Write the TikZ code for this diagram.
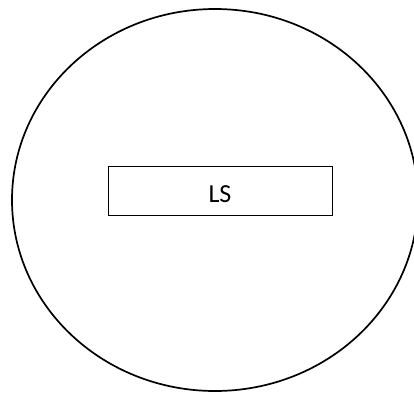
\documentclass[tikz,border=0pt]{standalone}
\usepackage{fontspec}
\setmainfont{Carlito}
\usetikzlibrary{shapes.geometric}
\begin{document}
\begin{tikzpicture}[x=1pt,y=1pt,
  outer/.style={draw, line width=1.7pt, ellipse, minimum width=406pt, minimum height=382pt, inner sep=0pt},
  box/.style={draw, line width=0.8pt, rectangle, minimum width=224pt, minimum height=49pt, inner sep=0pt, text height=24pt, text depth=0pt, font=\fontsize{26}{30}\selectfont}]
\useasboundingbox (0,0) rectangle (414,392);
\node[outer] (circ) at (215,192) {};
\node[box] (ls) at (220,201.5) {LS};
\end{tikzpicture}
\end{document}
